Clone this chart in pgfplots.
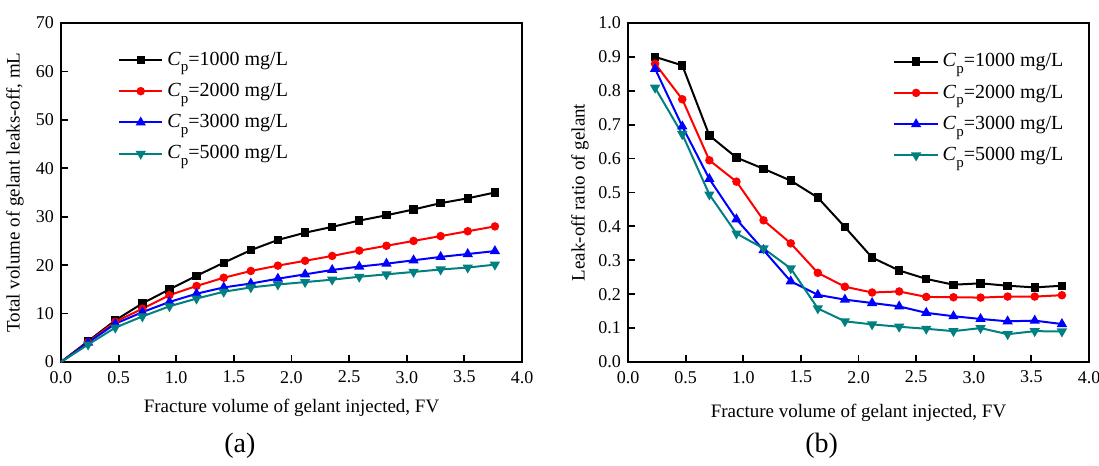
\documentclass[border=0pt]{standalone}
\usepackage{pgfplots}
\pgfplotsset{compat=1.18}
\usepackage{fontspec}
\setmainfont{Liberation Serif}
\definecolor{cteal}{RGB}{0,128,128}
\newcommand{\Cp}{\textit{C}\raisebox{-0.75ex}{\fontsize{7.5}{8}\selectfont p}}
\pgfplotsset{
 myaxis/.style={
  scale only axis, width=230.5pt, height=169.5pt,
  xmin=0, xmax=4, xtick={0,0.5,...,4},
  tick align=inside, tick pos=left,
  major tick length=3.5pt,
  axis line style={line width=1.1pt},
  every tick/.style={line width=0.9pt, black},
  ticklabel style={font=\fontsize{9}{10}\selectfont},
  /pgf/number format/assume math mode=true,
  x tick label style={yshift=-1pt, /pgf/number format/.cd, fixed, fixed zerofill, precision=1, /tikz/.cd},
  label style={font=\fontsize{9.5}{11}\selectfont},
  legend style={draw=none, fill=none, font=\fontsize{10}{11}\selectfont, row sep=3.5pt, cells={anchor=west}},
  legend image code/.code={\draw[mark repeat=2,mark phase=2] plot coordinates {(0cm,0cm) (0.38cm,0cm) (0.76cm,0cm)};},
  every axis plot/.append style={line width=1pt, mark size=1.6pt},
  xlabel={Fracture volume of gelant injected, FV},
  clip=false,
 }
}
\begin{document}
\begin{tikzpicture}
\path[use as bounding box] (0,0) rectangle (549.5pt,233pt);
\begin{axis}[myaxis, at={(30.5pt,52pt)}, anchor=south west,
  ymin=0, ymax=70, ytick={0,10,...,70},
  ylabel={Total volume of gelant leaks-off, mL},
  ylabel style={at={(axis description cs:-0.1,0.5)}, anchor=center},
  xlabel style={at={(axis description cs:0.5,-0.135)}, anchor=center},
  legend style={at={(axis description cs:0.11,0.94)}, anchor=north west}]
\addplot[black, mark=square*, mark phase=2] coordinates {(0,0) (0.235,4.3) (0.471,8.6) (0.706,12.1) (0.941,15.0) (1.176,17.8) (1.412,20.5) (1.647,23.1) (1.882,25.2) (2.118,26.7) (2.353,27.9) (2.588,29.2) (2.824,30.3) (3.059,31.5) (3.294,32.8) (3.529,33.8) (3.765,35.0)};
\addplot[red, mark=*, mark phase=2] coordinates {(0,0) (0.235,4.1) (0.471,8.3) (0.706,11.0) (0.941,13.8) (1.176,15.7) (1.412,17.4) (1.647,18.8) (1.882,19.9) (2.118,20.9) (2.353,21.9) (2.588,23.0) (2.824,24.0) (3.059,25.0) (3.294,26.0) (3.529,27.0) (3.765,28.0)};
\addplot[blue, mark=triangle*, mark size=2pt, mark phase=2] coordinates {(0,0) (0.235,4.0) (0.471,7.9) (0.706,10.3) (0.941,12.4) (1.176,14.1) (1.412,15.4) (1.647,16.2) (1.882,17.2) (2.118,18.1) (2.353,19.0) (2.588,19.7) (2.824,20.3) (3.059,21.0) (3.294,21.7) (3.529,22.3) (3.765,22.9)};
\addplot[cteal, mark=triangle*, mark size=2pt, mark options={rotate=180}, mark phase=2] coordinates {(0,0) (0.235,3.6) (0.471,7.1) (0.706,9.4) (0.941,11.5) (1.176,13.1) (1.412,14.5) (1.647,15.4) (1.882,16.0) (2.118,16.5) (2.353,17.0) (2.588,17.6) (2.824,18.1) (3.059,18.6) (3.294,19.1) (3.529,19.5) (3.765,20.1)};
\legend{\Cp=1000 mg/L, \Cp=2000 mg/L, \Cp=3000 mg/L, \Cp=5000 mg/L}
\node[font=\fontsize{14}{16}\selectfont] at (axis description cs:0.388,-0.248) {(a)};
\end{axis}
\begin{axis}[myaxis, at={(314pt,52pt)}, anchor=south west,
  ymin=0, ymax=1, ytick={0,0.1,...,1.0},
  y tick label style={/pgf/number format/.cd, fixed, fixed zerofill, precision=1, /tikz/.cd},
  ylabel={Leak-off ratio of gelant},
  ylabel style={at={(axis description cs:-0.104,0.5)}, anchor=center},
  xlabel style={at={(axis description cs:0.5,-0.15)}, anchor=center},
  legend style={at={(axis description cs:0.562,0.935)}, anchor=north west}]
\addplot[black, mark=square*] coordinates {(0.235,0.900) (0.471,0.875) (0.706,0.668) (0.941,0.603) (1.176,0.570) (1.412,0.535) (1.647,0.485) (1.882,0.398) (2.118,0.308) (2.353,0.270) (2.588,0.245) (2.824,0.228) (3.059,0.232) (3.294,0.225) (3.529,0.220) (3.765,0.225)};
\addplot[red, mark=*] coordinates {(0.235,0.880) (0.471,0.775) (0.706,0.595) (0.941,0.532) (1.176,0.418) (1.412,0.350) (1.647,0.263) (1.882,0.222) (2.118,0.205) (2.353,0.208) (2.588,0.192) (2.824,0.191) (3.059,0.190) (3.294,0.193) (3.529,0.193) (3.765,0.197)};
\addplot[blue, mark=triangle*, mark size=2pt] coordinates {(0.235,0.865) (0.471,0.695) (0.706,0.540) (0.941,0.421) (1.176,0.330) (1.412,0.238) (1.647,0.198) (1.882,0.184) (2.118,0.174) (2.353,0.164) (2.588,0.145) (2.824,0.135) (3.059,0.127) (3.294,0.120) (3.529,0.122) (3.765,0.112)};
\addplot[cteal, mark=triangle*, mark size=2pt, mark options={rotate=180}] coordinates {(0.235,0.809) (0.471,0.672) (0.706,0.494) (0.941,0.379) (1.176,0.335) (1.412,0.276) (1.647,0.158) (1.882,0.120) (2.118,0.111) (2.353,0.104) (2.588,0.098) (2.824,0.091) (3.059,0.100) (3.294,0.082) (3.529,0.091) (3.765,0.090)};
\legend{\Cp=1000 mg/L, \Cp=2000 mg/L, \Cp=3000 mg/L, \Cp=5000 mg/L}
\node[font=\fontsize{14}{16}\selectfont] at (axis description cs:0.42,-0.248) {(b)};
\end{axis}
\end{tikzpicture}
\end{document}
